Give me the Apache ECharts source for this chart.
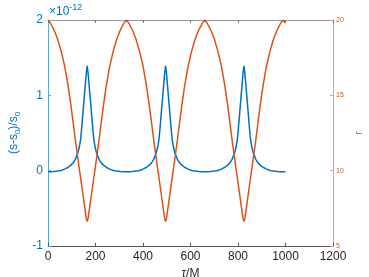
<!DOCTYPE html>
<html>
<head>
<meta charset="utf-8">
<script src="https://cdn.jsdelivr.net/npm/echarts@6/dist/echarts.min.js"></script>
<style>
html,body{margin:0;padding:0;background:#fff;}
#c{width:369px;height:277px;}
</style>
</head>
<body>
<div id="c"></div>
<script>
// proper time tau/M
var tau = [
0,10,25,40,55,70,85,95,105,115,125,131,137,141,145,149,153,157,161,165,
169,173,177,181,185,189,193,199,205,215,225,235,245,260,275,290,305,320,330,
340,355,370,385,400,415,425,435,445,455,461,467,471,475,479,483,487,491,495,
499,503,507,511,515,519,523,529,535,545,555,565,575,590,605,620,635,650,660,
670,685,700,715,730,745,755,765,775,785,791,797,801,805,809,813,817,821,825,
829,833,837,841,845,849,853,859,865,875,885,895,905,920,935,950,965,980,990,
1000];
// (s-s0)/s0 in units of 1e-12
var sRel = [
-0.014,-0.014,-0.011,-0.006,0.003,0.02,0.045,0.07,0.10,0.15,0.23,0.30,0.41,0.54,0.69,0.84,0.99,1.14,1.29,1.39,
1.29,1.14,0.99,0.84,0.69,0.54,0.41,0.30,0.23,0.15,0.10,0.07,0.045,0.02,0.003,-0.006,-0.011,-0.014,-0.014,
-0.014,-0.011,-0.006,0.003,0.02,0.045,0.07,0.10,0.15,0.23,0.30,0.41,0.54,0.69,0.84,0.99,1.14,1.29,1.39,
1.29,1.14,0.99,0.84,0.69,0.54,0.41,0.30,0.23,0.15,0.10,0.07,0.045,0.02,0.003,-0.006,-0.011,-0.014,-0.014,
-0.014,-0.011,-0.006,0.003,0.02,0.045,0.07,0.10,0.15,0.23,0.30,0.41,0.54,0.69,0.84,0.99,1.14,1.29,1.39,
1.29,1.14,0.99,0.84,0.69,0.54,0.41,0.30,0.23,0.15,0.10,0.07,0.045,0.02,0.003,-0.006,-0.011,-0.014,-0.014,
-0.014];
// r
var rVal = [
20.0,19.8,19.35,18.75,17.95,16.95,15.6,14.5,13.3,12.05,10.9,10.2,9.55,9.1,8.65,8.2,7.75,7.3,6.85,6.62,
6.85,7.3,7.75,8.2,8.65,9.1,9.55,10.2,10.9,12.05,13.3,14.5,15.6,16.95,17.95,18.75,19.35,19.8,20.0,
19.8,19.35,18.75,17.95,16.95,15.6,14.5,13.3,12.05,10.9,10.2,9.55,9.1,8.65,8.2,7.75,7.3,6.85,6.62,
6.85,7.3,7.75,8.2,8.65,9.1,9.55,10.2,10.9,12.05,13.3,14.5,15.6,16.95,17.95,18.75,19.35,19.8,20.0,
19.8,19.35,18.75,17.95,16.95,15.6,14.5,13.3,12.05,10.9,10.2,9.55,9.1,8.65,8.2,7.75,7.3,6.85,6.62,
6.85,7.3,7.75,8.2,8.65,9.1,9.55,10.2,10.9,12.05,13.3,14.5,15.6,16.95,17.95,18.75,19.35,19.8,20.0,
19.8];

var BLUE = '#0072BD', ORANGE = '#D95319', AX = '#262626';
var FONT = 'Liberation Sans';

function zip(a, b) { var o = []; for (var i = 0; i < a.length; i++) o.push([a[i], b[i]]); return o; }
function plain(v) { return String(v); }

var chart = echarts.init(document.getElementById('c'), null, {renderer: 'canvas'});
chart.setOption({
  animation: false,
  backgroundColor: '#fff',
  textStyle: {fontFamily: FONT},
  grid: {left: 48, right: 36, top: 20, bottom: 31, containLabel: false, outerBoundsMode: 'none'},
  xAxis: [{
    type: 'value', min: 0, max: 1200, interval: 200, position: 'bottom',
    axisLine: {show: true, onZero: false, lineStyle: {color: '#555555', width: 1}},
    axisTick: {show: true, inside: true, length: 3, lineStyle: {color: '#555555'}},
    axisLabel: {color: AX, fontSize: 12, margin: 5, fontFamily: FONT, formatter: plain},
    splitLine: {show: false},
    name: '{i|τ}/M', nameLocation: 'middle', nameGap: 17,
    nameTextStyle: {color: AX, fontSize: 12, fontFamily: FONT,
      rich: {i: {fontStyle: 'italic', fontSize: 12, color: AX, fontFamily: FONT}}}
  }, {
    type: 'value', min: 0, max: 1200, interval: 200, position: 'top',
    axisLine: {show: true, onZero: false, lineStyle: {color: '#999999', width: 1}},
    axisTick: {show: true, inside: true, length: 3, lineStyle: {color: '#777777'}},
    axisLabel: {show: false}, splitLine: {show: false}
  }],
  yAxis: [{
    type: 'value', min: -1, max: 2, interval: 1, position: 'left',
    axisLine: {show: true, onZero: false, lineStyle: {color: '#5aa6da', width: 1}},
    axisTick: {show: true, inside: true, length: 3, lineStyle: {color: '#5aa6da'}},
    axisLabel: {color: BLUE, fontSize: 12, margin: 5, fontFamily: FONT, formatter: plain},
    splitLine: {show: false},
    name: '{a|(s-s}{b|0}{a|)/s}{b|0}', nameLocation: 'middle', nameRotate: 90, nameGap: 14,
    nameTextStyle: {color: BLUE, fontFamily: FONT,
      rich: {a: {fontSize: 12, color: BLUE, fontFamily: FONT},
             b: {fontSize: 8, color: BLUE, fontFamily: FONT, padding: [7, 0, 0, 0]}}}
  }, {
    type: 'value', min: 5, max: 20, interval: 5, position: 'right',
    axisLine: {show: true, onZero: false, lineStyle: {color: '#e89c7c', width: 1}},
    axisTick: {show: true, inside: true, length: 3, lineStyle: {color: '#e89c7c'}},
    axisLabel: {color: ORANGE, fontSize: 7, margin: 3, fontFamily: FONT, formatter: plain},
    splitLine: {show: false},
    name: 'r', nameLocation: 'middle', nameRotate: 90, nameGap: 11,
    nameTextStyle: {color: ORANGE, fontSize: 10, fontFamily: FONT}
  }],
  graphic: [{
    type: 'text', left: 49, top: 3,
    style: {
      text: '{a|×10}{b|-12}',
      rich: {a: {fontSize: 12, fill: BLUE, fontFamily: FONT},
             b: {fontSize: 9, fill: BLUE, fontFamily: FONT, padding: [0, 0, 8, 0]}}
    }
  }],
  series: [{
    type: 'line', xAxisIndex: 0, yAxisIndex: 0, data: zip(tau, sRel),
    showSymbol: false, symbol: 'none', smooth: false,
    lineStyle: {color: BLUE, width: 1.5}, itemStyle: {color: BLUE}
  }, {
    type: 'line', xAxisIndex: 0, yAxisIndex: 1, data: zip(tau, rVal),
    showSymbol: false, symbol: 'none', smooth: false,
    lineStyle: {color: ORANGE, width: 1.5}, itemStyle: {color: ORANGE}
  }]
});
</script>
</body>
</html>
